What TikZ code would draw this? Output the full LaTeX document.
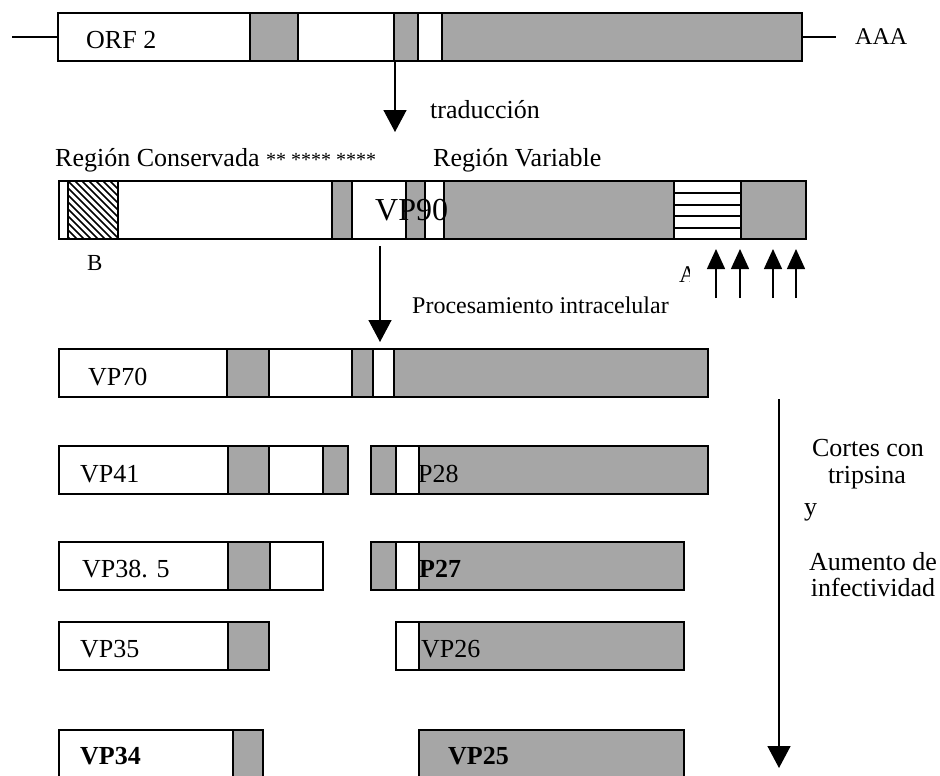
\documentclass[tikz,border=0pt]{standalone}
\usepackage{fontspec}
\setmainfont{Liberation Serif}
\usetikzlibrary{arrows.meta}
\definecolor{segfill}{RGB}{166,166,166}
\begin{document}
\begin{tikzpicture}[x=1pt,y=-1pt,
  seg/.style={draw=black,line width=1.6pt},
  gseg/.style={seg,fill=segfill},
  wseg/.style={seg,fill=white},
  txt/.style={inner sep=0pt,anchor=base west,font=\fontsize{26pt}{30pt}\selectfont},
  txtc/.style={inner sep=0pt,anchor=base,font=\fontsize{26pt}{30pt}\selectfont},
  txtb/.style={txt,font=\fontsize{26pt}{30pt}\selectfont\bfseries},
  tail/.style={line width=1.3pt},
  flow/.style={line width=1.5pt,-{Triangle[width=23pt,length=22pt]}},
  cut/.style={line width=1.5pt,-{Triangle[width=18pt,length=20pt]}}]
\path[use as bounding box] (0,0) rectangle (940,776);
\begin{scope}
\clip (0,0) rectangle (940,776);

% ---- ORF 2 transcript
\coordinate (orf5) at (12,37);
\coordinate (orfL) at (58,37);
\coordinate (orfR) at (803,37);
\coordinate (orf3) at (836,37);
\draw[tail] (orf5) -- (orfL);
\draw[tail] (orfR) -- (orf3);
\draw[wseg] (58,13) rectangle (802,61);
\draw[gseg] (250,13) rectangle (298,61);
\draw[gseg] (394,13) rectangle (418,61);
\draw[gseg] (442,13) rectangle (802,61);
\node[txt] (orf) at (86,49) {ORF 2};
\node[txt,font=\fontsize{24pt}{28pt}\selectfont] (aaa) at (855,45) {AAA};

% translation step
\coordinate (trA) at (395,61);
\coordinate (trB) at (395,132);
\draw[flow] (trA) -- (trB);
\node[txt] (trad) at (430,118) {traducción};

% ---- VP90 precursor
\node[txt] (rcons) at (55,166) {Región Conservada {\fontsize{20pt}{24pt}\selectfont ** **** ****}};
\node[txt] (rvar) at (433,166) {Región Variable};
\draw[wseg] (59,181) rectangle (806,239);
\begin{scope}
  \clip (68,181) rectangle (118,239);
  \foreach \k in {-63,-56,...,50}
    \draw[line width=1.5pt] (68+\k,181) -- (126+\k,239);
\end{scope}
\draw[seg] (68,181) rectangle (118,239);
\draw[gseg] (332,181) rectangle (352,239);
\draw[gseg] (406,181) rectangle (425,239);
\draw[gseg] (444,181) rectangle (674,239);
\draw[wseg] (674,181) rectangle (741,239);
\foreach \yy in {193,205,216,228}
  \draw[line width=1.6pt] (674,\yy) -- (741,\yy);
\draw[gseg] (741,181) rectangle (806,239);
\node[txt,font=\fontsize{32pt}{36pt}\selectfont] (vp90) at (375,220) {VP90};
\node[txt,font=\fontsize{23pt}{27pt}\selectfont] (siteB) at (87,270) {B};
\begin{scope}
  \clip (670,255) rectangle (689,295);
  \node[txt,font=\fontsize{24pt}{28pt}\selectfont] (siteA) at (679,282) {A};
\end{scope}

% trypsin cleavage sites
\foreach \cx [count=\i] in {716,740,773,796} {
  \coordinate (cs\i) at (\cx,298);
  \coordinate (ct\i) at (\cx,249);
  \draw[cut] (cs\i) -- (ct\i);
}

% intracellular processing step
\coordinate (prA) at (380,246);
\coordinate (prB) at (380,342);
\draw[flow] (prA) -- (prB);
\node[txt,font=\fontsize{24pt}{28pt}\selectfont] (proc) at (412,313) {Procesamiento intracelular};

% ---- VP70
\draw[wseg] (59,349) rectangle (708,397);
\draw[gseg] (227,349) rectangle (269,397);
\draw[gseg] (352,349) rectangle (373,397);
\draw[gseg] (394,349) rectangle (708,397);
\node[txt] (vp70) at (88,385) {VP70};

% ---- VP41 / VP28
\draw[wseg] (59,446) rectangle (348,494);
\draw[gseg] (228,446) rectangle (269,494);
\draw[gseg] (323,446) rectangle (348,494);
\node[txt] (vp41) at (80,482) {VP41};
\draw[gseg] (371,446) rectangle (708,494);
\draw[wseg] (396,446) rectangle (419,494);
\node[txt] (vp28) at (418,482) {P28};

% ---- VP38.5 / VP27
\draw[wseg] (59,542) rectangle (323,590);
\draw[gseg] (228,542) rectangle (270,590);
\node[txt] (vp385) at (82,577) {VP38. 5};
\draw[gseg] (371,542) rectangle (684,590);
\draw[wseg] (396,542) rectangle (419,590);
\node[txtb] (vp27) at (419,577) {P27};

% ---- VP35 / VP26
\draw[wseg] (59,622) rectangle (269,670);
\draw[gseg] (228,622) rectangle (269,670);
\node[txt] (vp35) at (80,657) {VP35};
\draw[gseg] (396,622) rectangle (684,670);
\draw[wseg] (396,622) rectangle (419,670);
\node[txt] (vp26) at (421,657) {VP26};

% ---- VP34 / VP25
\draw[wseg] (59,730) rectangle (263,800);
\draw[gseg] (233,730) rectangle (263,800);
\node[txtb] (vp34) at (80,764) {VP34};
\draw[gseg] (419,730) rectangle (684,800);
\node[txtb] (vp25) at (448,764) {VP25};

% trypsin step
\coordinate (tpA) at (779,399);
\coordinate (tpB) at (779,768);
\draw[flow] (tpA) -- (tpB);
\node[txtc] (t1) at (868,456) {Cortes con};
\node[txtc] (t2) at (867,483) {tripsina};
\node[txt] (t3) at (804,515) {y};
\node[txtc] (t4) at (873,570) {Aumento de};
\node[txtc] (t5) at (873,596) {infectividad};
\end{scope}
\end{tikzpicture}
\end{document}
